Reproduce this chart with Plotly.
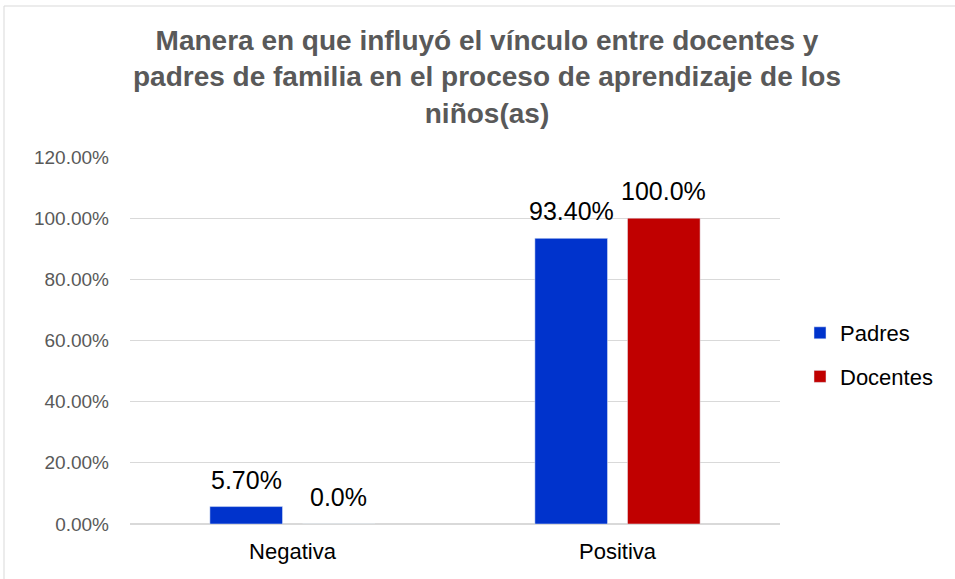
import plotly.graph_objects as go

categories = ["Negativa", "Positiva"]
padres = [0.057, 0.934]
docentes = [0.0, 1.0]
padres_labels = ["5.70%", "93.40%"]
docentes_labels = ["0.0%", "100.0%"]
title_text = ("Manera en que influyó el vínculo entre docentes y<br>"
              "padres de familia en el proceso de aprendizaje de los<br>niños(as)")

W, H = 955, 579
L, R, T, B = 130, 175, 157, 55
pw, ph = W - L - R, H - T - B
BARGAP, GROUPGAP = 0.43, 0.216
slot_px = pw / len(categories) * (1 - BARGAP) / 2

fig = go.Figure()
fig.add_trace(go.Bar(name="Padres", x=categories, y=padres,
                     marker_color="#0033CC", legendgroup="p", hoverinfo="skip"))
fig.add_trace(go.Bar(name="Docentes", x=categories, y=docentes,
                     marker_color="#C00000", legendgroup="d", hoverinfo="skip"))

annotations = []
for vals, labels, sign in ((padres, padres_labels, -1), (docentes, docentes_labels, 1)):
    for c, v, t in zip(categories, vals, labels):
        annotations.append(dict(x=c, y=v, text=t, showarrow=False, xref="x", yref="y",
                                xanchor="center", yanchor="bottom",
                                xshift=sign * slot_px / 2, yshift=11,
                                font=dict(family="Liberation Sans", size=25, color="#000000")))

def px_x(p):
    return (p - L) / pw

def px_y(p):
    return (H - B - p) / ph

fig.update_layout(
    width=W, height=H,
    margin=dict(l=L, r=R, t=T, b=B),
    paper_bgcolor="white", plot_bgcolor="white",
    barmode="group", bargap=BARGAP, bargroupgap=GROUPGAP,
    annotations=annotations,
    title=dict(text=title_text, x=487 / W, xref="container", xanchor="center",
               y=1 - 50 / H, yref="container", yanchor="middle",
               font=dict(family="Liberation Sans", size=28, color="#595959", weight="bold")),
    yaxis=dict(range=[0, 1.2], dtick=0.2, tickformat=".2%", showgrid=True,
               gridcolor="#d9d9d9", gridwidth=1, zeroline=True, zerolinecolor="#d9d9d9",
               zerolinewidth=1.5, ticks="", showline=False, ticklabelstandoff=20,
               tickfont=dict(family="Liberation Sans", size=19, color="#595959")),
    xaxis=dict(showline=False, ticks="", ticklabelstandoff=12,
               tickfont=dict(family="Liberation Sans", size=22, color="#000000")),
    legend=dict(x=px_x(800), y=px_y(355), xanchor="left", yanchor="middle",
                font=dict(family="Liberation Sans", size=22, color="#000000"),
                tracegroupgap=12, bgcolor="rgba(0,0,0,0)"),
    shapes=[dict(type="rect", xref="paper", yref="paper",
                 x0=px_x(4), x1=px_x(962), y0=px_y(586), y1=px_y(6),
                 line=dict(color="#d9d9d9", width=1), layer="below")],
)

fig.write_html("out.html", config={"displayModeBar": False},
               post_script="document.body.style.margin='0';")
